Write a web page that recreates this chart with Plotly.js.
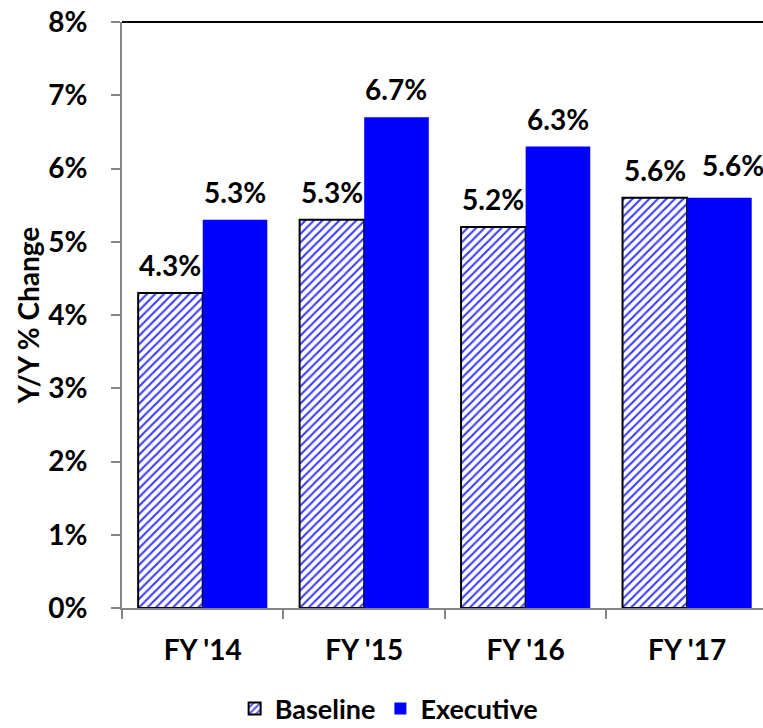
<!DOCTYPE html>
<html>
<head>
<meta charset="utf-8">
<script src="https://cdn.plot.ly/plotly-3.0.1.min.js"></script>
<style>
  html, body { margin: 0; padding: 0; background: #fff; }
  #chart { width: 763px; height: 728px; }
</style>
</head>
<body>
<div id="chart"></div>
<script>
// Fiscal years shown on the category axis
const years = ["FY '14", "FY '15", "FY '16", "FY '17"];
// Year-over-year percent change for each budget
const baseline = [4.3, 5.3, 5.2, 5.6];
const executive = [5.3, 6.7, 6.3, 5.6];
const yTicks = [0, 1, 2, 3, 4, 5, 6, 7, 8];

const FONT = 'Lato, "Open Sans", sans-serif';
const BOLD = { family: FONT, size: 28, color: '#000', weight: 'bold' };

const traces = [
  {
    type: 'bar', name: 'Baseline', x: years, y: baseline,
    marker: {
      color: '#ffffff',
      line: { color: '#000000', width: 2 },
      pattern: { shape: '/', fgcolor: '#3a3aff', bgcolor: '#ffffff', size: 6, solidity: 0.35 }
    },
    hoverinfo: 'skip'
  },
  {
    type: 'bar', name: 'Executive', x: years, y: executive,
    marker: { color: '#0000ff', line: { width: 0 } },
    hoverinfo: 'skip'
  }
];

// Width of one category in pixels, used to centre value labels over each bar
const plotW = 763 - 122;
const xRange = [-0.5, 3.47];
const catPx = plotW / (xRange[1] - xRange[0]);
const halfBar = catPx * 0.4 / 2;

const annotations = [];
years.forEach((yr, i) => {
  // when both labels would collide (equal heights), push the right one aside
  const clash = Math.abs(baseline[i] - executive[i]) < 0.05;
  annotations.push({ x: yr, y: baseline[i], xref: 'x', yref: 'y', text: baseline[i].toFixed(1) + '%',
    showarrow: false, xshift: -halfBar, yshift: 28, yanchor: 'middle', font: BOLD });
  annotations.push({ x: yr, y: executive[i], xref: 'x', yref: 'y', text: executive[i].toFixed(1) + '%',
    showarrow: false, xshift: halfBar + (clash ? 14 : 0), yshift: clash ? 33 : 28,
    yanchor: 'middle', font: BOLD });
});

const layout = {
  width: 763, height: 728,
  margin: { l: 122, r: 0, t: 22, b: 120 },
  paper_bgcolor: '#fff', plot_bgcolor: '#fff',
  barmode: 'group', bargap: 0.2, bargroupgap: 0,
  showlegend: true,
  legend: {
    orientation: 'h', xref: 'container', yref: 'container',
    x: 0.51, xanchor: 'center', y: 0.026, yanchor: 'middle',
    font: Object.assign({}, BOLD, { size: 27 }), itemsizing: 'constant', traceorder: 'normal'
  },
  xaxis: {
    type: 'category', range: xRange,
    showline: true, linecolor: '#868686', linewidth: 2,
    ticks: 'outside', tickson: 'boundaries', ticklen: 9, tickcolor: '#868686', tickwidth: 2,
    tickfont: BOLD, ticklabelstandoff: 16,
    showgrid: false, zeroline: false, fixedrange: true
  },
  yaxis: {
    range: [0, 8], tickvals: yTicks, ticktext: yTicks.map(v => v + '%'),
    showline: true, linecolor: '#868686', linewidth: 2,
    ticks: 'outside', ticklen: 9, tickcolor: '#868686', tickwidth: 2,
    tickfont: BOLD, ticklabelstandoff: 18,
    showgrid: false, zeroline: false,
    title: { text: 'Y/Y % Change', font: BOLD, standoff: 0 },
    fixedrange: true
  },
  shapes: [
    { type: 'line', xref: 'paper', yref: 'paper', x0: 0, x1: 1, y0: 1, y1: 1,
      line: { color: '#000', width: 2 } }
  ],
  annotations: annotations
};

Plotly.newPlot('chart', traces, layout, { displayModeBar: false, staticPlot: true });
</script>
</body>
</html>
